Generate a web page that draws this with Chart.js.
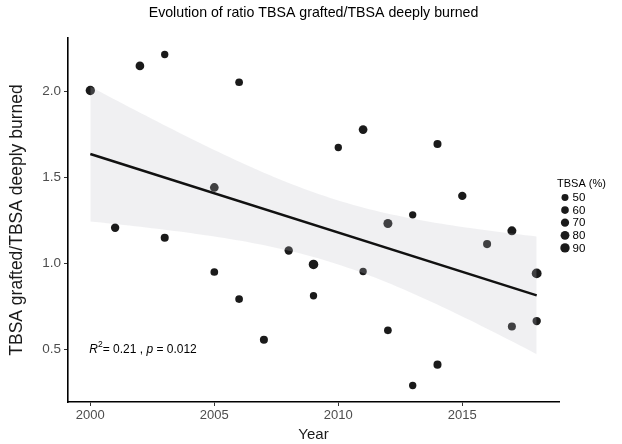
<!DOCTYPE html>
<html><head><meta charset="utf-8">
<script src="https://cdn.jsdelivr.net/npm/chart.js@4"></script>
<style>html,body{margin:0;padding:0;background:#fff}canvas{display:block}</style>
</head><body>
<canvas id="c" width="622" height="444"></canvas>
<script>
// ---- data ----
const years  = [2000,2001,2002,2003,2003,2005,2005,2006,2006,2007,2008,2009,2009,2010,2011,2011,2012,2012,2013,2013,2014,2014,2015,2016,2017,2017,2018,2018];
const ratios = [2.005,1.208,2.148,2.214,1.150,1.442,0.951,2.053,0.794,0.558,1.076,0.995,0.813,1.674,1.778,0.954,1.233,0.612,1.283,0.292,1.694,0.413,1.393,1.113,1.190,0.635,0.943,0.666];
const tbsa   = [80,65,70,50,60,70,55,55,55,60,65,85,50,50,70,50,75,55,50,50,60,60,65,60,75,60,90,65];
const legendSizes = [50,60,70,80,90];
const xTicks = [2000,2005,2010,2015];
const yTicks = [0.5,1.0,1.5,2.0];
const titleText = 'Evolution of ratio TBSA grafted/TBSA deeply burned';
const xTitle = 'Year';
const yTitle = 'TBSA grafted/TBSA deeply burned';
const legendTitle = 'TBSA (%)';
const statR2 = '0.21', statP = '0.012';

// ---- linear fit with 95% confidence band (as geom_smooth(method="lm")) ----
const n = years.length;
const mx = years.reduce((a,b)=>a+b,0)/n, my = ratios.reduce((a,b)=>a+b,0)/n;
let sxx=0, sxy=0, syy=0;
for (let i=0;i<n;i++){const dx=years[i]-mx, dy=ratios[i]-my; sxx+=dx*dx; sxy+=dx*dy; syy+=dy*dy;}
const slope = sxy/sxx, icpt = my - slope*mx;
const sres = Math.sqrt((syy - slope*sxy)/(n-2));
const tq = 2.0555; // t(0.975, df = 26)
const xmin = Math.min(...years), xmax = Math.max(...years);
const upper=[], lower=[], fitLine=[];
for (let i=0;i<=80;i++){
  const x = xmin + (xmax-xmin)*i/80;
  const f = icpt + slope*x;
  const se = sres*Math.sqrt(1/n + (x-mx)*(x-mx)/sxx);
  upper.push({x, y:f+tq*se}); lower.push({x, y:f-tq*se});
}
fitLine.push({x:xmin, y:icpt+slope*xmin},{x:xmax, y:icpt+slope*xmax});

const rad = t => 0.52*Math.sqrt(t);
const pts = years.map((x,i)=>({x, y:ratios[i]}));
const FONT = '"Liberation Sans", Arial, Helvetica, sans-serif';

const overlay = {
  id:'overlay',
  afterDraw(chart){
    const ctx = chart.ctx, xs = chart.scales.x, ys = chart.scales.y, ca = chart.chartArea;
    ctx.save();
    // title, centred on the panel
    ctx.fillStyle = '#000'; ctx.textBaseline = 'middle'; ctx.textAlign = 'center';
    ctx.font = '14.2px '+FONT;
    ctx.fillText(titleText, (ca.left+ca.right)/2, 13.5);
    // annotation
    ctx.textAlign='left';
    let x = xs.getPixelForValue(2000) - 1, y = ys.getPixelForValue(0.5);
    const part = (txt, font, dy) => { ctx.font = font; ctx.fillText(txt, x, y+(dy||0)); x += ctx.measureText(txt).width; };
    part('R', 'italic 12px '+FONT);
    part('2', '8.5px '+FONT, -4.5);
    part('= '+statR2+' , ', '12px '+FONT);
    part('p', 'italic 12px '+FONT);
    part(' = '+statP, '12px '+FONT);
    // legend
    ctx.fillStyle = '#000';
    ctx.font = '11px '+FONT;
    ctx.fillText(legendTitle, 557, 184);
    ctx.font = '11.5px '+FONT;
    legendSizes.forEach((s,i)=>{
      const yy = 197.5 + i*12.6;
      ctx.fillStyle = '#1a1a1a';
      ctx.beginPath(); ctx.arc(565, yy, rad(s)*0.95, 0, Math.PI*2); ctx.fill();
      ctx.fillStyle = '#000';
      ctx.fillText(String(s), 572.5, yy+0.5);
    });
    ctx.restore();
  }
};

new Chart(document.getElementById('c'), {
  type:'scatter',
  data:{ datasets:[
    {label:'points', data:pts, order:3, backgroundColor:'#1a1a1a', borderWidth:0,
     pointRadius: c => rad(tbsa[c.dataIndex] || 60), pointHoverRadius: c => rad(tbsa[c.dataIndex] || 60)},
    {label:'upper', type:'line', data:upper, order:2, borderWidth:0, pointRadius:0, fill:'+1',
     backgroundColor:'rgba(190,192,198,0.23)', borderColor:'rgba(0,0,0,0)', tension:0},
    {label:'lower', type:'line', data:lower, order:2, borderWidth:0, pointRadius:0, fill:false,
     borderColor:'rgba(0,0,0,0)', tension:0},
    {label:'fit', type:'line', data:fitLine, order:1, borderColor:'#111', borderWidth:2.4, pointRadius:0, fill:false}
  ]},
  options:{
    responsive:false, animation:false, devicePixelRatio:1,
    layout:{padding:{left:0, right:63, top:38, bottom:0}},
    plugins:{
      legend:{display:false}, tooltip:{enabled:false}, title:{display:false}
    },
    scales:{
      x:{type:'linear', min:1999.1, max:2018.9,
         afterBuildTicks: s => { s.ticks = xTicks.map(v=>({value:v})); },
         afterFit: s => { s.height = 42; },
         ticks:{color:'#4d4d4d', font:{family:FONT, size:13}, padding:2, callback:v=>String(v), maxRotation:0},
         grid:{display:true, drawOnChartArea:false, drawTicks:true, tickLength:4, color:'#333', lineWidth:1},
         border:{display:true, color:'#000', width:1.6},
         title:{display:true, text:xTitle, color:'#1a1a1a', font:{family:FONT, size:15}, padding:{top:0, bottom:0}}
      },
      y:{type:'linear', min:0.196, max:2.31,
         afterBuildTicks: s => { s.ticks = yTicks.map(v=>({value:v})); },
         afterFit: s => { s.width = 68; },
         ticks:{color:'#4d4d4d', font:{family:FONT, size:13.5}, padding:3, callback:v=>v.toFixed(1)},
         grid:{display:true, drawOnChartArea:false, drawTicks:true, tickLength:4, color:'#333', lineWidth:1},
         border:{display:true, color:'#000', width:1.6},
         title:{display:true, text:yTitle, color:'#1a1a1a', font:{family:FONT, size:17.5}, padding:{top:6.6, bottom:0}}
      }
    }
  },
  plugins:[overlay]
});
</script>
</body></html>
